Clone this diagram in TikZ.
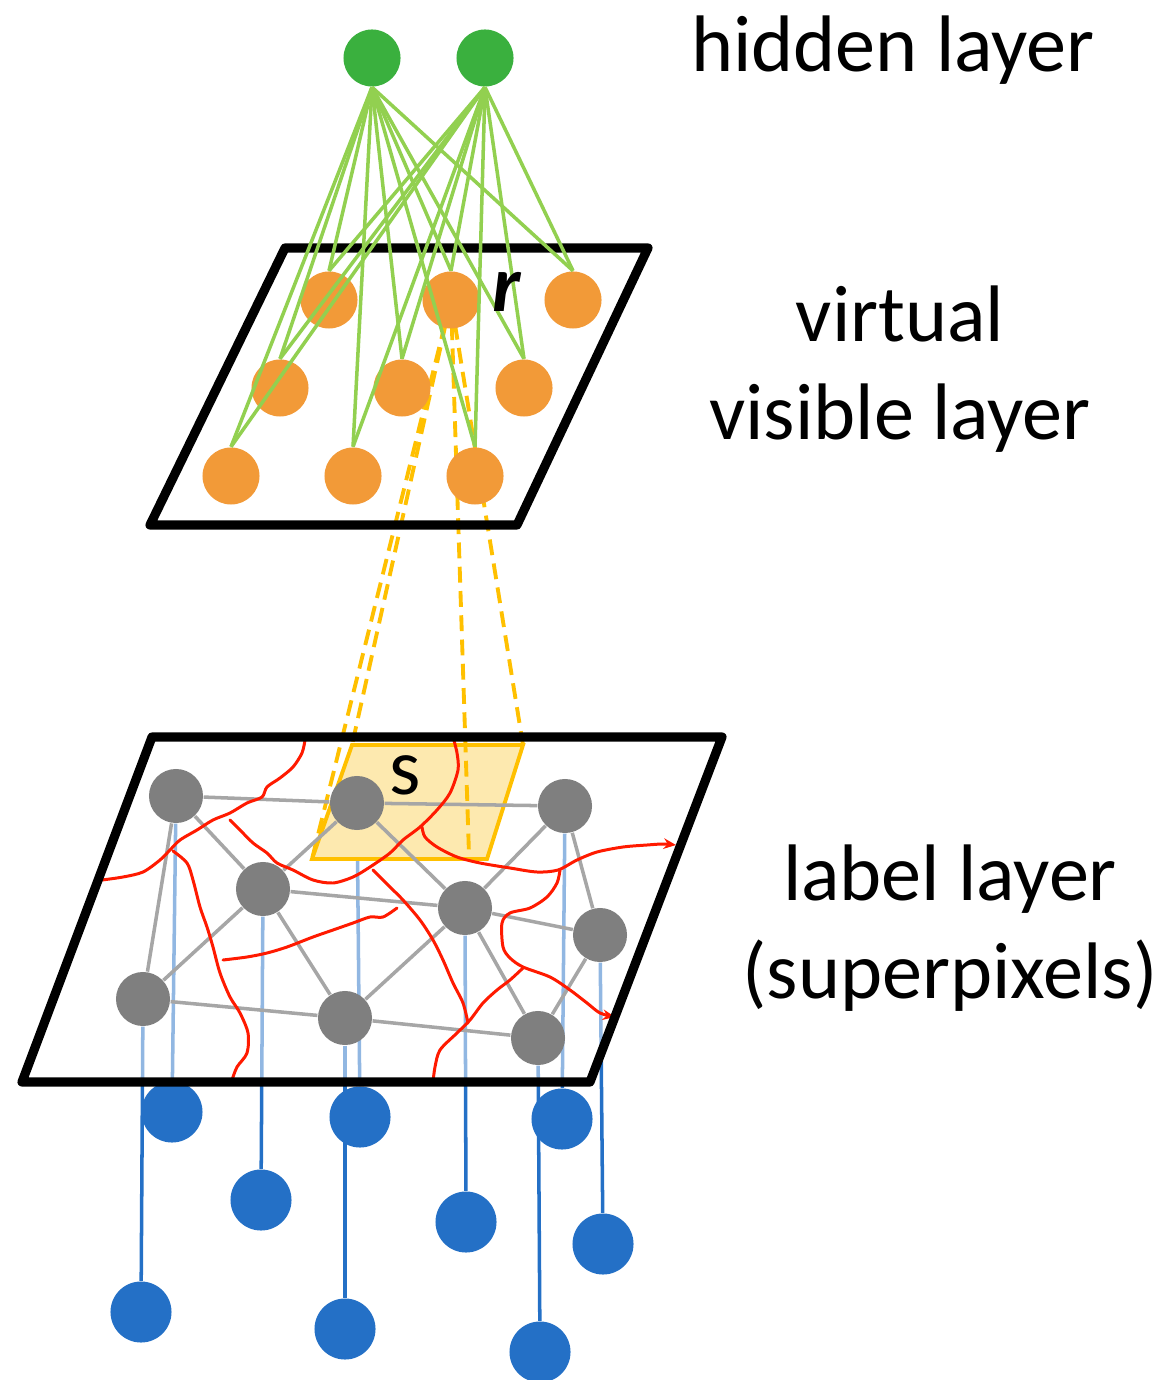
\documentclass[tikz,border=0pt]{standalone}
\usepackage{fontspec}
\setmainfont{Carlito}
\usetikzlibrary{arrows.meta}

\definecolor{hidgreen}{HTML}{3AB03E}
\definecolor{linkgreen}{HTML}{92D050}
\definecolor{visorange}{HTML}{F29A38}
\definecolor{patchyellow}{HTML}{FFC000}
\definecolor{patchfill}{HTML}{FDE9AF}
\definecolor{labgray}{HTML}{7F7F7F}
\definecolor{edgegray}{HTML}{A6A6A6}
\definecolor{obsblue}{HTML}{2470C6}
\definecolor{cutred}{HTML}{FF1A00}

\pgfdeclarelayer{back}
\pgfdeclarelayer{mid}
\pgfsetlayers{back,mid,main}

\begin{document}
\begin{tikzpicture}[x=0.01cm, y=-0.01cm,
  hid/.style={circle, fill=hidgreen, minimum size=5.7mm, inner sep=0pt},
  vis/.style={circle, fill=visorange, minimum size=5.7mm, inner sep=0pt},
  lab/.style={circle, fill=labgray, minimum size=5.4mm, inner sep=0pt},
  obs/.style={circle, fill=obsblue, minimum size=6.1mm, inner sep=0pt},
  plane/.style={draw=black, line width=2.6pt, line join=round},
  link/.style={draw=linkgreen, line width=1pt},
  gridline/.style={color=edgegray, line width=1pt},
  obsline/.style={draw=obsblue, line width=1pt},
  patch/.style={fill=patchfill, draw=patchyellow, line width=1.1pt},
  proj/.style={draw=patchyellow, line width=1.1pt, dash pattern=on 4.5pt off 2.4pt},
  cutline/.style={draw=cutred, line width=0.85pt, line cap=round},
  txt/.style={font=\fontsize{22.8}{28}\selectfont, inner sep=0pt}]
  \useasboundingbox (0,0) rectangle (1162,1380);

  % planes and patch
  \coordinate (ta) at (285,248);
  \coordinate (tb) at (648,248);
  \coordinate (tc) at (517,525);
  \coordinate (td) at (150,525);
  \coordinate (la) at (152,737);
  \coordinate (lb) at (722,737);
  \coordinate (lc) at (590,1082);
  \coordinate (ld) at (22,1082);
  \coordinate (sa) at (352,745);
  \coordinate (sb) at (523,745);
  \coordinate (sc) at (487,859);
  \coordinate (sd) at (312,859);
  \coordinate (sm) at (469,855);

  % top layers
  \draw[plane] (ta) -- (tb) -- (tc) -- (td) -- cycle;
  \foreach \r in {0,1,2}
    \foreach \c in {0,1,2}
      \node (v\r\c) [vis] at ({329+122*\c-49*\r},{300+88*\r}) {};
  \node (h1) [hid] at (372,58) {};
  \node (h2) [hid] at (485,58) {};
  \foreach \h in {h1,h2}
    \foreach \r in {0,1,2}
      \foreach \c in {0,1,2}
        \draw[link] (\h.south) -- (v\r\c.north);

  % label layer
  \node (g1) [lab] at (176,796) {};
  \node (g2) [lab] at (357,803) {};
  \node (g3) [lab] at (565,806) {};
  \node (g4) [lab] at (263,889) {};
  \node (g5) [lab] at (465,908) {};
  \node (g6) [lab] at (600,935) {};
  \node (g7) [lab] at (143,999) {};
  \node (g8) [lab] at (345,1018) {};
  \node (g9) [lab] at (538,1038) {};

  \node (b1) [obs] at (172,1112) {};
  \node (b2) [obs] at (360,1117) {};
  \node (b3) [obs] at (562,1119) {};
  \node (b4) [obs] at (261,1200) {};
  \node (b5) [obs] at (466,1222) {};
  \node (b6) [obs] at (603,1244) {};
  \node (b7) [obs] at (141,1312) {};
  \node (b8) [obs] at (345,1329) {};
  \node (b9) [obs] at (540,1352) {};

  \begin{pgfonlayer}{back}
    \foreach \i in {1,...,9}
      \draw[obsline] (g\i) -- (b\i);
    \fill[white, opacity=0.5] (la) -- (lb) -- (lc) -- (ld) -- cycle;
    \draw[patch] (sa) -- (sb) -- (sc) -- (sd) -- cycle;
  \end{pgfonlayer}

  \begin{pgfonlayer}{mid}
    \foreach \c in {sa,sd,sb,sm}
      \draw[proj] (v01.center) -- (\c);
  \end{pgfonlayer}

  \path [gridline]
  (g1) edge (g2)
  (g2) edge (g3)
  (g1) edge (g4)
  (g1) edge (g7)
  (g2) edge (g4)
  (g2) edge (g5)
  (g4) edge (g5)
  (g4) edge (g7)
  (g4) edge (g8)
  (g3) edge (g5)
  (g3) edge (g6)
  (g5) edge (g6)
  (g5) edge (g8)
  (g5) edge (g9)
  (g7) edge (g8)
  (g8) edge (g9)
  (g6) edge (g9);

  % superpixel boundaries
  \draw[cutline] plot[smooth] coordinates {(305,740) (302,753) (293,767) (280,778) (267,787) (262,797) (247,803) (230,813) (213,820) (197,830) (180,840) (170,850) (160,860) (143,872) (123,877) (102,880)};
  \draw[cutline] plot[smooth] coordinates {(173,851) (187,863) (193,880) (200,907) (207,927) (213,947) (220,973) (230,997) (240,1013) (248,1033) (247,1053) (237,1067) (232,1080)};
  \draw[cutline] plot[smooth] coordinates {(453,737) (457,753) (458,770) (450,793) (437,810) (420,827) (403,840) (390,853) (370,867) (353,877) (333,883) (313,880) (293,870) (277,863) (267,853) (253,843) (240,830) (230,820)};
  \draw[cutline, -{Stealth[length=3.5pt, width=3pt]}] plot[smooth] coordinates {(422,827) (425,837) (437,847) (457,857) (480,863) (510,868) (537,872) (558,870) (577,860) (597,852) (623,847) (647,845) (663,844) (676,845)};
  \draw[cutline, -{Stealth[length=3.5pt, width=3pt]}] plot[smooth] coordinates {(560,870) (557,883) (547,897) (530,908) (510,913) (502,923) (503,947) (510,958) (523,967) (550,977) (570,990) (587,1003) (600,1013) (615,1017)};
  \draw[cutline] plot[smooth] coordinates {(523,968) (510,980) (497,990) (483,1003) (470,1020) (457,1033) (440,1050) (435,1067) (433,1082)};
  \draw[cutline] plot[smooth] coordinates {(373,870) (390,887) (403,900) (420,920) (433,940) (443,960) (453,983) (463,1003) (468,1023)};
  \draw[cutline] plot[smooth] coordinates {(223,960) (247,957) (267,953) (287,947) (313,937) (333,930) (353,923) (370,917) (383,917) (397,908)};

  \draw[plane] (la) -- (lb) -- (lc) -- (ld) -- cycle;

  % texts
  \node (rlab) [txt] at (507,292) {\textbf{\textit{r}}};
  \node (slab) [txt] at (405,775) {s};
  \node (hidlab) [txt, anchor=base] at (893,72) {hidden layer};
  \node (vislab) [txt, align=center] at (900,369) {virtual\\visible layer};
  \node (lablab) [txt, align=center] at (950,928) {label layer\\(superpixels)};
\end{tikzpicture}
\end{document}
